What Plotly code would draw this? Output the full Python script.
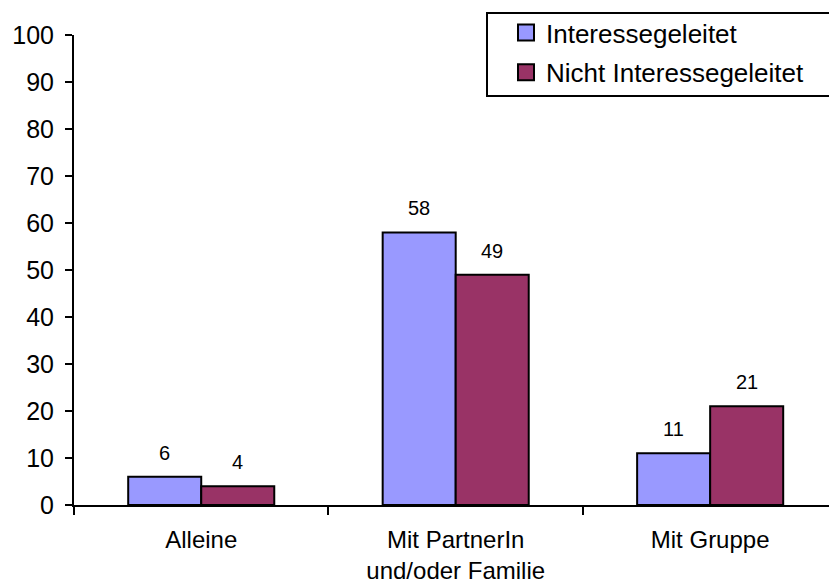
import plotly.graph_objects as go

# Survey shares (%) by travel company
categories = ["Alleine", "Mit PartnerIn<br>und/oder Familie", "Mit Gruppe"]
interessegeleitet = [6, 58, 11]
nicht_interessegeleitet = [4, 49, 21]
series_names = ["Interessegeleitet", "Nicht Interessegeleitet"]
y_ticks = list(range(0, 101, 10))

FONT = "Arial, 'Liberation Sans', sans-serif"
BLUE = "#9999FF"
PLUM = "#993366"
BARGAP = 0.426

fig = go.Figure()
for name, vals, color in [(series_names[0], interessegeleitet, BLUE),
                          (series_names[1], nicht_interessegeleitet, PLUM)]:
    fig.add_trace(go.Bar(
        x=categories, y=vals, name=name, legendgroup=name, showlegend=False,
        marker=dict(color=color, line=dict(color="black", width=2)),
    ))

# legend entries with larger square swatches
for name, color in [(series_names[0], BLUE), (series_names[1], PLUM)]:
    fig.add_trace(go.Scatter(
        x=[None], y=[None], mode="markers", name=name, legendgroup=name,
        marker=dict(symbol="square", size=16, color=color,
                    line=dict(color="black", width=2)),
    ))

# value labels above each bar, centred over the bar within its group
half = (1 - BARGAP) / 2 / 2
for offset, vals in [(-half, interessegeleitet), (half, nicht_interessegeleitet)]:
    for i, v in enumerate(vals):
        fig.add_annotation(
            x=i + offset, y=v, xref="x", yref="y", text=str(v),
            showarrow=False, yanchor="middle", yshift=24,
            font=dict(family=FONT, size=20, color="black"),
        )

# legend frame (runs off the right edge)
fig.add_shape(type="rect", xref="paper", yref="paper",
              x0=(487 - 74) / 755, x1=1.02, y0=(505 - 96) / 470, y1=(505 - 13) / 470,
              line=dict(color="black", width=2), fillcolor="white", layer="below")

fig.update_layout(
    width=829, height=587,
    margin=dict(l=74, r=0, t=35, b=82),
    paper_bgcolor="white", plot_bgcolor="white",
    font=dict(family=FONT, size=25, color="black"),
    barmode="group", bargap=BARGAP, bargroupgap=0,
    showlegend=True,
    legend=dict(
        x=(506 - 74) / 755, xanchor="left",
        y=(505 - 9) / 470, yanchor="top",
        bgcolor="rgba(0,0,0,0)", borderwidth=0,
        traceorder="grouped", tracegroupgap=3,
        font=dict(family=FONT, size=26, color="black"),
    ),
    xaxis=dict(
        type="category", range=[-0.5, 2.467], automargin=False,
        tickson="boundaries", ticks="outside", ticklen=8, tickwidth=2, tickcolor="black",
        showline=True, linewidth=2, linecolor="black",
        showgrid=False, tickfont=dict(size=24), ticklabelstandoff=12,
    ),
    yaxis=dict(
        range=[0, 100], tickvals=y_ticks, automargin=False,
        ticks="outside", ticklen=7, tickwidth=2, tickcolor="black",
        showline=True, linewidth=2, linecolor="black",
        showgrid=False, zeroline=False, tickfont=dict(size=25), ticklabelstandoff=6,
    ),
)

fig.write_html("out.html")
